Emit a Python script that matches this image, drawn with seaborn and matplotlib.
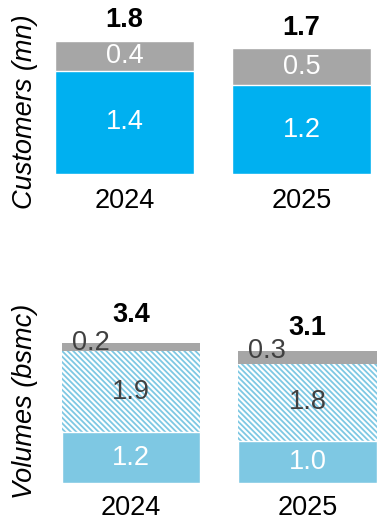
import matplotlib
matplotlib.use("Agg")
import matplotlib.pyplot as plt
import seaborn as sns

# ---- data ----
years = ["2024", "2025"]
cust_core = [1.4, 1.2]
cust_other = [0.4, 0.5]
cust_total = [1.8, 1.7]

vol_base = [1.2, 1.0]
vol_hatched = [1.9, 1.8]
vol_other = [0.2, 0.3]
vol_total = [3.4, 3.1]

# ---- style ----
sns.set_style("white")
plt.rcParams["font.family"] = ["Liberation Sans", "DejaVu Sans"]
plt.rcParams["hatch.linewidth"] = 1.3
FS = 19.5

BLUE = "#00B0F0"
GREY = "#A6A6A6"
LIGHT = "#7EC8E3"
DARK = "#404040"

W, H = 384, 530
fig = plt.figure(figsize=(W / 100, H / 100), dpi=100)

# axes placement in pixels
ax1 = fig.add_axes([44.85 / W, (H - 174) / H, 336.3 / W, 170 / H])
ax2 = fig.add_axes([51.6 / W, (H - 483) / H, 335.4 / W, 191 / H])

BW = 0.785

# ---- top: customers ----
c_top = [a + b for a, b in zip(cust_core, cust_other)]
sns.barplot(x=years, y=c_top, order=years, color=GREY, saturation=1,
            width=BW, edgecolor="white", linewidth=1, ax=ax1)
sns.barplot(x=years, y=cust_core, order=years, color=BLUE, saturation=1,
            width=BW, edgecolor="white", linewidth=1, ax=ax1)

for i in range(len(years)):
    ax1.text(i, cust_core[i] / 2, f"{cust_core[i]:.1f}", ha="center", va="center",
             color="white", fontsize=FS)
    ax1.text(i, cust_core[i] + cust_other[i] / 2, f"{cust_other[i]:.1f}",
             ha="center", va="center", color="white", fontsize=FS)
    ax1.annotate(f"{cust_total[i]:.1f}", xy=(i, c_top[i]), xytext=(0, 15),
                 textcoords="offset points", ha="center", va="center",
                 fontsize=FS, fontweight="bold", color="black")

ax1.set_ylim(0, 2.3)

# ---- bottom: volumes ----
v2 = [a + b for a, b in zip(vol_base, vol_hatched)]
v3 = [a + b for a, b in zip(v2, vol_other)]
sns.barplot(x=years, y=v3, order=years, color=GREY, saturation=1,
            width=BW, edgecolor="white", linewidth=0, ax=ax2)
sns.barplot(x=years, y=v2, order=years, color="white", saturation=1,
            width=BW, edgecolor=LIGHT, linewidth=0, hatch="\\" * 6, ax=ax2)
sns.barplot(x=years, y=vol_base, order=years, color=LIGHT, saturation=1,
            width=BW, edgecolor="white", linewidth=1, ax=ax2)

for i in range(len(years)):
    ax2.text(i, vol_base[i] / 2, f"{vol_base[i]:.1f}", ha="center", va="center",
             color="white", fontsize=FS)
    ax2.text(i, vol_base[i] + vol_hatched[i] / 2, f"{vol_hatched[i]:.1f}",
             ha="center", va="center", color=DARK, fontsize=FS)
    ax2.text(i - 0.23, v3[i], f"{vol_other[i]:.1f}", ha="center", va="center",
             color=DARK, fontsize=FS)
    ax2.annotate(f"{vol_total[i]:.1f}", xy=(i, vol_total[i]), xytext=(0, 17),
                 textcoords="offset points", ha="center", va="center",
                 fontsize=FS, fontweight="bold", color="black")

ax2.set_ylim(0, 4.5)

for ax, pad in ((ax1, 10), (ax2, 8.6)):
    ax.set_xlim(-0.45, 1.45)
    ax.set_yticks([])
    ax.set_xlabel("")
    ax.set_ylabel("")
    ax.tick_params(axis="x", length=0, pad=pad, labelsize=FS, colors="black")
    for s in ax.spines.values():
        s.set_visible(False)
    ax.patch.set_alpha(0)

fig.text(25 / W, (H - 112) / H, "Customers (mn)", rotation=90, ha="center",
         va="center", fontsize=FS, fontstyle="italic", color="black")
fig.text(25 / W, (H - 401) / H, "Volumes (bsmc)", rotation=90, ha="center",
         va="center", fontsize=FS, fontstyle="italic", color="black")

fig.savefig("out.png", dpi=100)
